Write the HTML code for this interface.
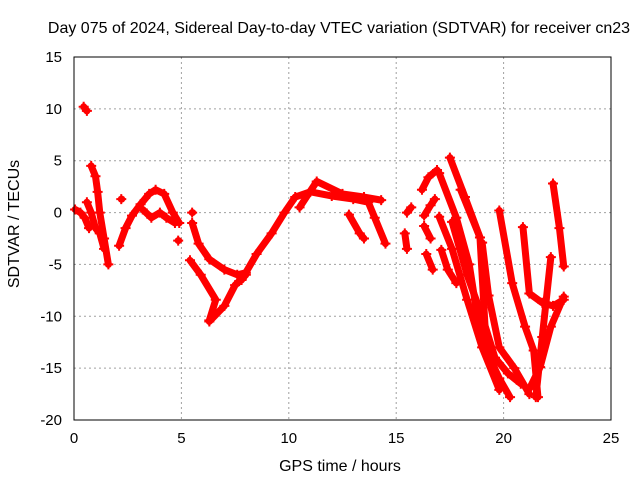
<!DOCTYPE html>
<html><head><meta charset="utf-8"><style>
body{margin:0;background:#fff}
svg{display:block;font-family:"Liberation Sans",sans-serif}
</style></head><body>
<svg id="chart" width="640" height="480">
<rect width="640" height="480" fill="#fff"/>
<g id="grid"></g>
<g id="marks"></g>
<rect x="74" y="57" width="537" height="363" fill="none" stroke="#000" stroke-width="1"/>
<g id="ticks" font-size="15" fill="#000"></g>
<text x="339" y="33" text-anchor="middle" font-size="16">Day 075 of 2024, Sidereal Day-to-day VTEC variation (SDTVAR) for receiver cn23</text>
<text x="340" y="471" text-anchor="middle" font-size="16">GPS time / hours</text>
<text transform="translate(19,224) rotate(-90)" text-anchor="middle" font-size="16">SDTVAR / TECUs</text>
</svg>
<script>
const xTicks=[0,5,10,15,20,25];
const yTicks=[15,10,5,0,-5,-10,-15,-20];
// each track: hours and values
const trackHours=[
[0.05,0.3,0.5,0.7],
[0.8,1.0,1.1,1.2,1.4,1.6],
[0.6,0.8,1.0,1.2,1.4],
[0.45,0.6],
[2.1,2.4,2.7,3.1,3.5,3.8,4.2,4.6,4.9],
[3.2,3.6,4.0,4.3,4.7],
[2.2],[4.85],[5.5],
[5.5,5.8,6.3,7.0,7.6,8.0],
[5.4,5.9,6.6,6.3],
[6.3,7.0,7.5,8.0],
[7.8,8.5,9.2,9.8,10.3,11.0,12.0,13.0,13.7,14.0,14.5],
[10.5,11.3,12.5,13.5,14.3],
[12.8,13.3,13.5],
[15.4,15.5],[15.5,15.7],
[16.2,16.5,16.9],
[16.3,16.6,16.8],[16.3,16.6],
[16.4,16.7],
[17.1,17.4,17.8],
[17.5,18.2,18.9],
[17.0,17.8,18.4,18.9,19.4],
[17.0,17.6,18.3,19.0,19.8],
[18.0,18.9,19.2,19.8,20.3],
[19.8,20.4,21.0,21.4,21.6],
[20.9,21.2,21.8,22.3,22.8],
[22.3,22.6,22.8],
[22.2,21.8,21.5],
[22.8,22.2,21.7,21.2],
[19.0,19.3,19.8,20.5,21.2],
[17.6,18.3,19.0,19.6,20.2,20.8]
];
const trackValues=[
[0.3,0,-0.5,-1.5],
[4.5,3.5,2,0,-2.5,-5],
[1,0,-1.5,-2,-3.5],
[10.2,9.8],
[-3.2,-1.5,-0.3,0.8,1.8,2.2,1.8,0,-1],
[0.3,-0.5,0,-0.5,-1],
[1.3],[-2.7],[0],
[-1,-3,-4.5,-5.5,-6,-5.8],
[-4.6,-6,-8.4,-10.4],
[-10.5,-9,-7,-6],
[-6.5,-4,-2,0,1.5,2,1.6,1.3,1,-0.5,-3],
[0.5,3,1.8,1.5,1.2],
[-0.2,-2,-2.5],
[-2,-3.5],[0,0.5],
[2.2,3.4,4.1],
[-0.3,0.7,1.3],[-1.3,-2.5],
[-4,-5.5],
[-3.6,-5.5,-6.8],
[5.3,1.5,-2.4],
[3.8,-0.5,-5,-11.6,-14],
[-0.4,-3.5,-8.4,-13,-17.1],
[2.2,-2.4,-13.3,-16,-17.8],
[0.2,-6.8,-11,-13.3,-17.8],
[-1.4,-7.8,-8.7,-9,-8.4],
[2.8,-1.5,-5.2],
[-4.3,-12,-17.8],
[-8.1,-11,-14.9,-17],
[-2.9,-8,-13,-15,-17.5],
[-0.9,-6,-10,-14,-15.5,-16.5]
];
const X0=74,X1=611,Y0=420,Y1=57;
function xs(h){return X0+(h-0)/(25-0)*(X1-X0);}
function ys(v){return Y0-(v-(-20))/(15-(-20))*(Y0-Y1);}
const NS="http://www.w3.org/2000/svg";
const grid=document.getElementById('grid'),ticks=document.getElementById('ticks'),marks=document.getElementById('marks');
xTicks.forEach(t=>{
 const x=xs(t);
 if(t>0&&t<25){const l=document.createElementNS(NS,'line');
 l.setAttribute('x1',x);l.setAttribute('x2',x);l.setAttribute('y1',Y1);l.setAttribute('y2',Y0);
 l.setAttribute('stroke','#a0a0a0');l.setAttribute('stroke-dasharray','2,3');
 
 
 grid.appendChild(l);}
 const tx=document.createElementNS(NS,'text');
 tx.setAttribute('x',x);tx.setAttribute('y',443);tx.setAttribute('text-anchor','middle');tx.textContent=t;
 
 
 ticks.appendChild(tx);
});
yTicks.forEach(t=>{
 const y=ys(t);
 if(t>-20&&t<15){const l=document.createElementNS(NS,'line');
 l.setAttribute('x1',X0);l.setAttribute('x2',X1);l.setAttribute('y1',y);l.setAttribute('y2',y);
 l.setAttribute('stroke','#a0a0a0');l.setAttribute('stroke-dasharray','2,3');
 
 
 grid.appendChild(l);}
 const tx=document.createElementNS(NS,'text');
 tx.setAttribute('x',62);tx.setAttribute('y',y+5);tx.setAttribute('text-anchor','end');tx.textContent=t;
 
 
 ticks.appendChild(tx);
});
trackHours.forEach((hs,i)=>{
 const vs=trackValues[i];
 const pts=hs.map((h,j)=>xs(h)+','+ys(vs[j])).join(' ');
 const pl=document.createElementNS(NS,'polyline');
 pl.setAttribute('points',hs.length>1?pts:pts+' '+(xs(hs[0])+0.5)+','+ys(vs[0]));
 pl.setAttribute('fill','none');pl.setAttribute('stroke','#ff0000');pl.setAttribute('stroke-width','7');
 pl.setAttribute('stroke-linecap','round');pl.setAttribute('stroke-linejoin','round');
 
 
 marks.appendChild(pl);
 hs.forEach((h,j)=>{
  const x=xs(h),y=ys(vs[j]);
  const p=document.createElementNS(NS,'path');
  p.setAttribute('d',`M${x-5},${y}H${x+5}M${x},${y-5}V${y+5}`);
  p.setAttribute('stroke','#ff0000');p.setAttribute('stroke-width','2');
  
  
  marks.appendChild(p);
 });
});
</script>
</body></html>
